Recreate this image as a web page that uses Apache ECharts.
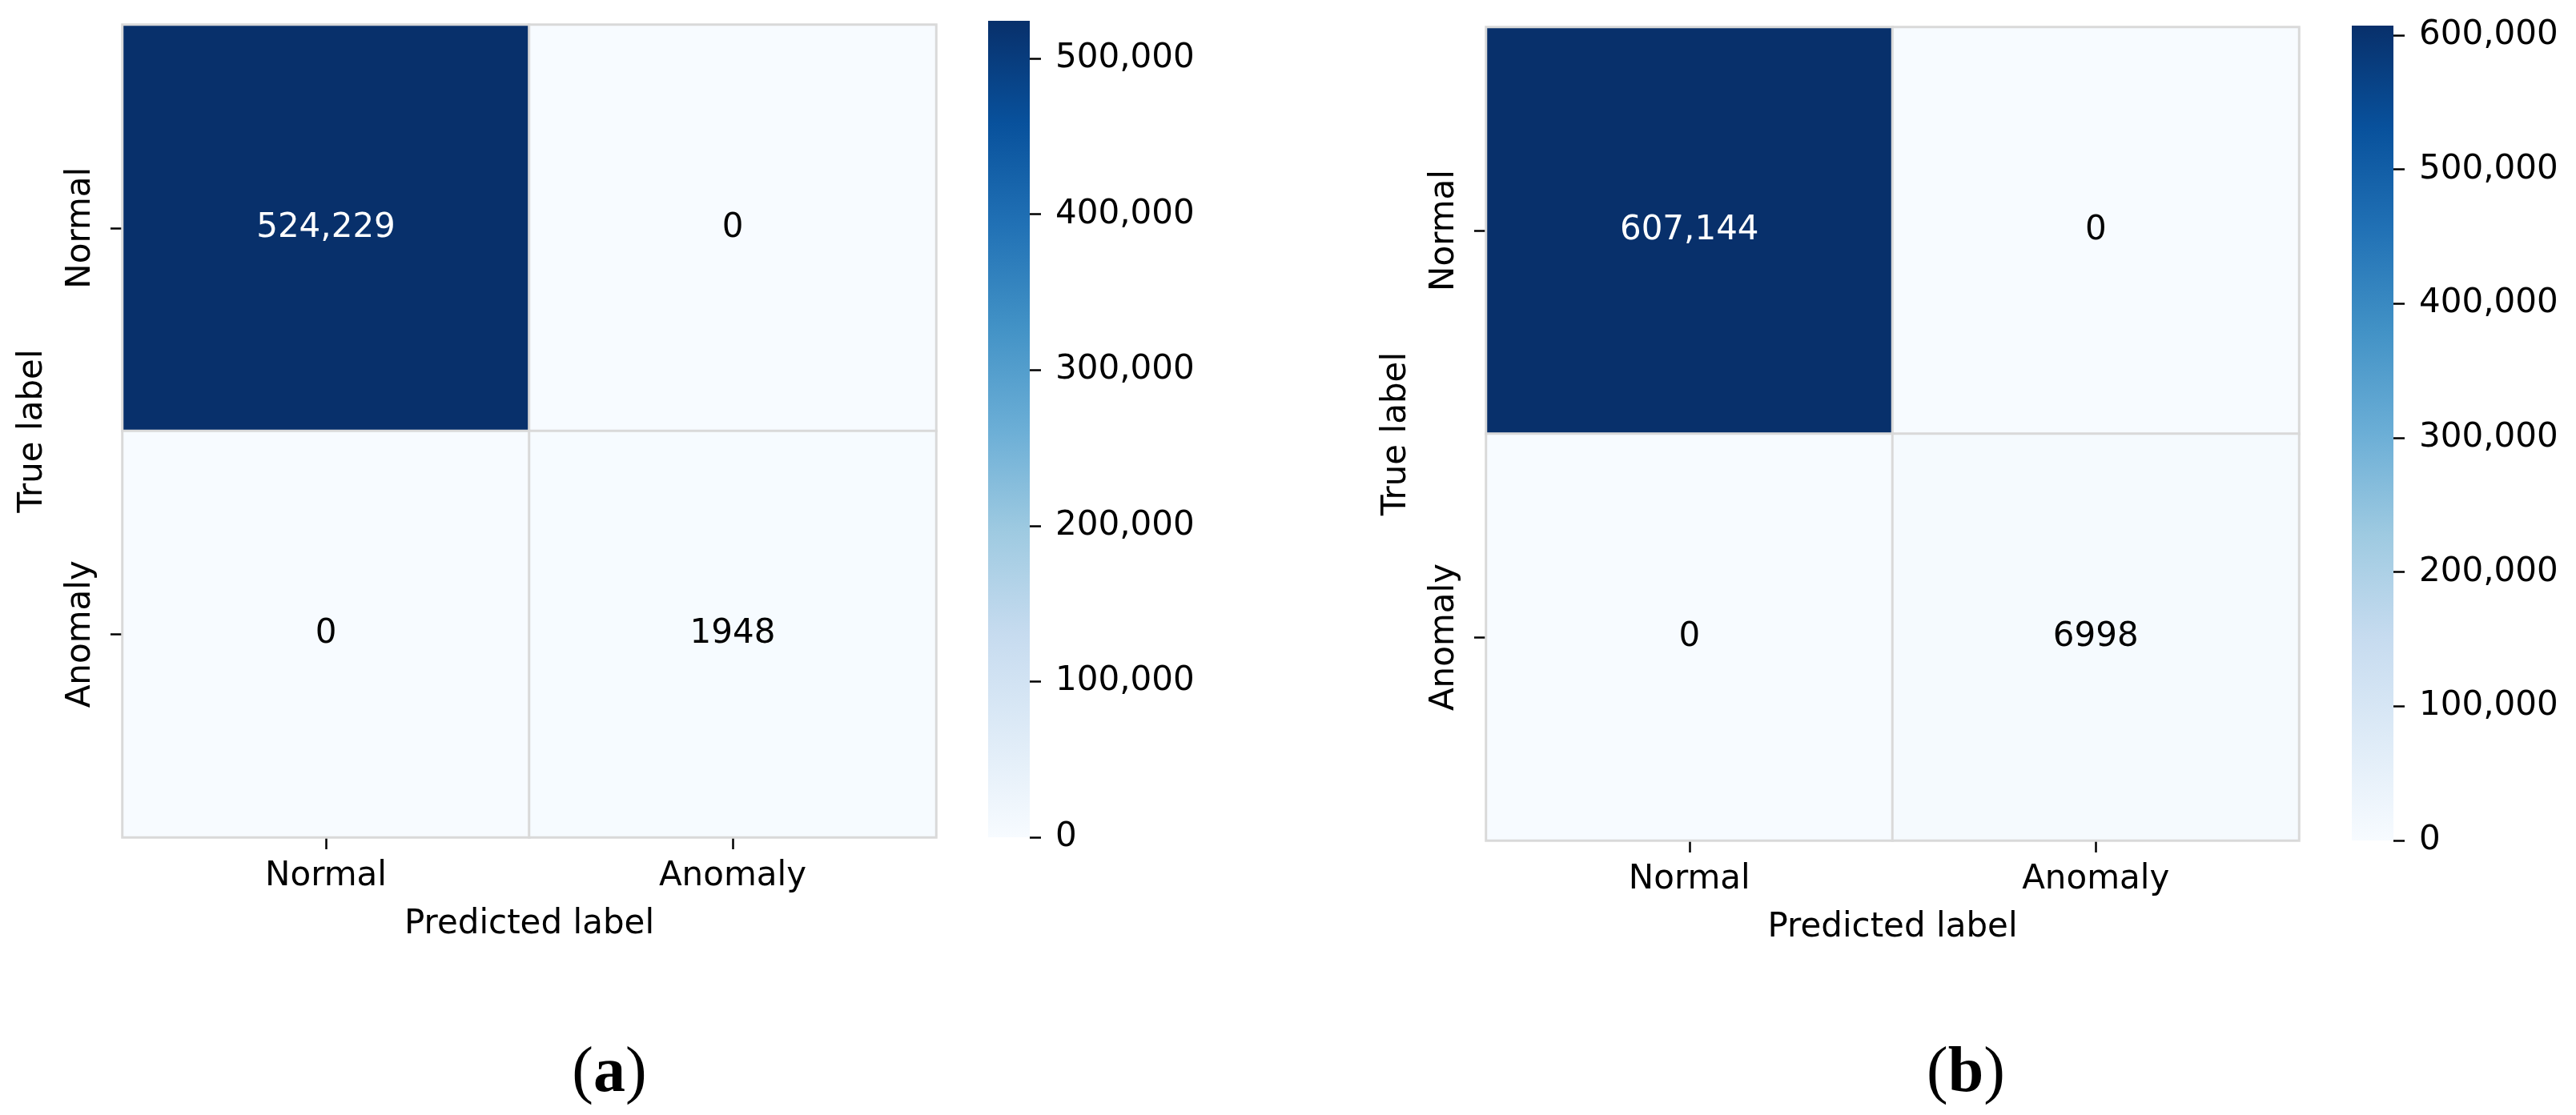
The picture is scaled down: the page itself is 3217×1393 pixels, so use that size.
<!DOCTYPE html>
<html>
<head>
<meta charset="utf-8">
<script src="https://cdn.jsdelivr.net/npm/echarts@6/dist/echarts.min.js"></script>
<style>
html,body{margin:0;padding:0;background:#fff;}
#chart{width:3217px;height:1393px;}
</style>
</head>
<body>
<div id="chart"></div>
<script>
// ---- data ----
const classLabels = ['Normal', 'Anomaly'];
// rows = true label, columns = predicted label
const matrixA = [[524229, 0], [0, 1948]];
const matrixB = [[607144, 0], [0, 6998]];
const colorbarTicksA = [0, 100000, 200000, 300000, 400000, 500000];
const colorbarTicksB = [0, 100000, 200000, 300000, 400000, 500000, 600000];
const captions = ['a', 'b'];
const xAxisTitle = 'Predicted label';
const yAxisTitle = 'True label';

// ---- styling ----
const BLUES = ['#f7fbff','#deebf7','#c6dbef','#9ecae1','#6baed6','#4292c6','#2171b5','#08519c','#08306b'];
const FONT = 'DejaVu Sans';
const FS = 42;

function toCells(m) {
  const out = [];
  m.forEach((row, r) => row.forEach((v, c) => out.push([c, r, v])));
  return out;
}
function maxOf(m) { return Math.max(...m.flat()); }
function fmtCell(v) { return v >= 10000 ? v.toLocaleString('en-US') : String(v); }

const vmaxA = maxOf(matrixA);
const vmaxB = maxOf(matrixB);

const gradient = {
  type: 'linear', x: 0, y: 0, x2: 0, y2: 1,
  colorStops: BLUES.slice().reverse().map((c, i) => ({ offset: i / (BLUES.length - 1), color: c }))
};

const grids = [
  { left: 153, top: 31, width: 1016, height: 1015 },
  { left: 1234, top: 26, width: 52, height: 1020 },
  { left: 1856, top: 34, width: 1015, height: 1016 },
  { left: 2937, top: 32, width: 52, height: 1018 }
];

function heatX(gi) {
  return {
    type: 'category', gridIndex: gi, data: classLabels, position: 'bottom',
    axisLine: { show: false },
    axisTick: { show: true, alignWithLabel: true, length: 15, lineStyle: { color: '#000', width: 2.5 } },
    axisLabel: { fontFamily: FONT, fontSize: FS, color: '#000', margin: 28, interval: 0 },
    splitLine: { show: false },
    name: xAxisTitle, nameLocation: 'middle', nameGap: 88,
    nameTextStyle: { fontFamily: FONT, fontSize: FS, color: '#000', verticalAlign: 'top' }
  };
}
function heatY(gi) {
  return {
    type: 'category', gridIndex: gi, data: classLabels, inverse: true, position: 'left',
    axisLine: { show: false },
    axisTick: { show: true, alignWithLabel: true, length: 15, lineStyle: { color: '#000', width: 2.5 } },
    axisLabel: { fontFamily: FONT, fontSize: FS, color: '#000', margin: 31, rotate: 90, interval: 0 },
    splitLine: { show: false },
    name: yAxisTitle, nameLocation: 'middle', nameGap: 91,
    nameTextStyle: { fontFamily: FONT, fontSize: FS, color: '#000' }
  };
}
function cbX(gi) {
  return { type: 'category', gridIndex: gi, data: ['v'], show: false, boundaryGap: true };
}
function cbY(gi, vmax, ticks) {
  return {
    type: 'value', gridIndex: gi, min: 0, max: vmax, position: 'right',
    axisLine: { show: false },
    splitLine: { show: false },
    axisTick: { show: true, length: 14, customValues: ticks, lineStyle: { color: '#000', width: 2.5 } },
    axisLabel: {
      fontFamily: FONT, fontSize: FS, color: '#000', margin: 32, customValues: ticks,
      formatter: v => Number(v).toLocaleString('en-US')
    }
  };
}
function heatSeries(gi, m, vmax) {
  return {
    type: 'heatmap', xAxisIndex: gi, yAxisIndex: gi, data: toCells(m),
    itemStyle: { borderColor: '#d9d9d9', borderWidth: 3 },
    emphasis: { disabled: true },
    label: {
      show: true,
      formatter: p => (p.value[2] > vmax / 2 ? '{w|' : '{k|') + fmtCell(p.value[2]) + '}',
      rich: {
        w: { color: '#ffffff', fontFamily: FONT, fontSize: FS },
        k: { color: '#000000', fontFamily: FONT, fontSize: FS }
      }
    }
  };
}
function cbSeries(gi, vmax) {
  return {
    type: 'bar', xAxisIndex: gi, yAxisIndex: gi, data: [vmax],
    barWidth: '100%', barCategoryGap: 0,
    itemStyle: { color: gradient },
    emphasis: { disabled: true }, silent: true
  };
}
function caption(x, letter) {
  return {
    type: 'text', x: x, y: 1342,
    style: {
      text: '({b|' + letter + '})',
      font: '80px "Liberation Serif"',
      fill: '#000',
      textAlign: 'center', textVerticalAlign: 'middle',
      align: 'center', verticalAlign: 'middle',
      rich: { b: { fontWeight: 'bold', fontSize: 80, fontFamily: 'Liberation Serif', fill: '#000', color: '#000' } }
    }
  };
}

const chart = echarts.init(document.getElementById('chart'), null, { renderer: 'canvas' });
chart.setOption({
  animation: false,
  backgroundColor: '#ffffff',
  textStyle: { fontFamily: FONT },
  grid: grids,
  xAxis: [heatX(0), cbX(1), heatX(2), cbX(3)],
  yAxis: [heatY(0), cbY(1, vmaxA, colorbarTicksA), heatY(2), cbY(3, vmaxB, colorbarTicksB)],
  visualMap: [
    { type: 'continuous', show: false, min: 0, max: vmaxA, seriesIndex: 0, dimension: 2, inRange: { color: BLUES } },
    { type: 'continuous', show: false, min: 0, max: vmaxB, seriesIndex: 2, dimension: 2, inRange: { color: BLUES } }
  ],
  series: [
    heatSeries(0, matrixA, vmaxA),
    cbSeries(1, vmaxA),
    heatSeries(2, matrixB, vmaxB),
    cbSeries(3, vmaxB)
  ],
  graphic: [caption(761, captions[0]), caption(2455, captions[1])]
});
</script>
</body>
</html>
